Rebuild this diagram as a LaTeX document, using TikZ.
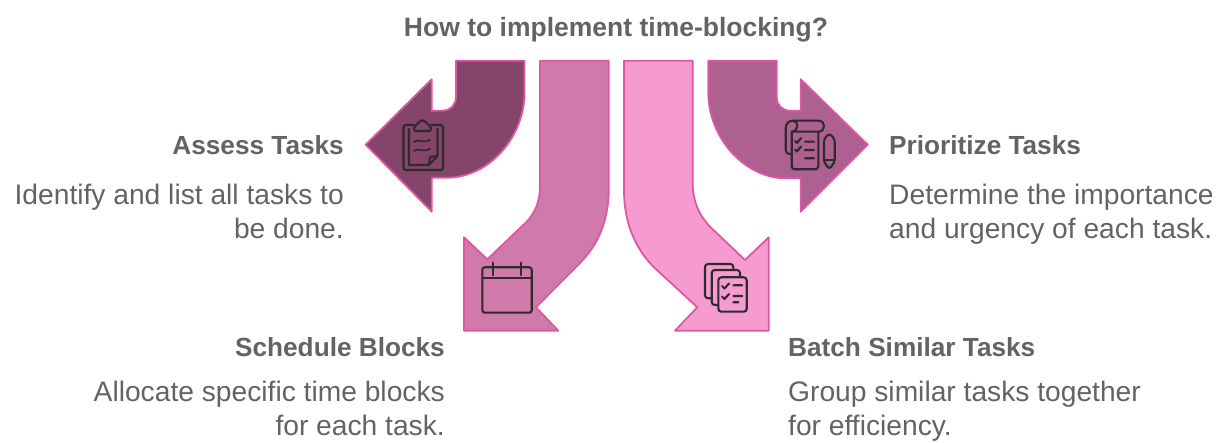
\documentclass[tikz,border=0pt]{standalone}
\usepackage{fontspec}
\setmainfont{Liberation Sans}
\usepackage{tikz}
\usetikzlibrary{positioning, calc}
\definecolor{textgray}{HTML}{636363}
\definecolor{edgepink}{HTML}{DE57A5}
\definecolor{iconink}{HTML}{2E2A2D}
\definecolor{assessfill}{HTML}{85446A}
\definecolor{schedulefill}{HTML}{CF7AAB}
\definecolor{batchfill}{HTML}{F59BD0}
\definecolor{priorityfill}{HTML}{AE6090}
\tikzstyle{titlebox}=[text=textgray,font=\fontsize{26.5}{30}\selectfont\bfseries,inner sep=0pt]
\tikzstyle{headbox}=[text=textgray,font=\fontsize{26.2}{30}\selectfont\bfseries,inner sep=0pt]
\tikzstyle{descbox}=[text=textgray,font=\fontsize{28.2}{34}\selectfont,inner sep=0pt]
\tikzstyle{arrowshape}=[draw=edgepink,line width=1.8pt,line join=round]
\tikzstyle{iconline}=[draw=iconink,line width=2.1pt,line cap=round,line join=round]

\begin{document}
\begin{tikzpicture}[x=1pt,y=-1pt]
        \useasboundingbox (0,0) rectangle (1225,443);

        % arrows
        \path[arrowshape,fill=assessfill]
            (456,60.7) -- (524.5,60.7) -- (524.5,93)
            .. controls (524.5,136) and (490,177.7) .. (446.7,177.7)
            -- (431.7,177.7) -- (431.7,211.7) -- (365.7,144.7) -- (431.7,79.3) -- (431.7,110.7)
            -- (443,110.7) .. controls (450,110.7) and (456,105) .. (456,97) -- cycle;
        \path[arrowshape,fill=schedulefill]
            (540,60.7) -- (608.7,60.7) -- (608.7,190)
            .. controls (608.7,222) and (597,246) .. (580,263)
            -- (536,307.3) -- (558.3,330.7) -- (464,330.7) -- (464,237.3) -- (487.3,259.3)
            -- (526.7,221.7) .. controls (535,213) and (540,201) .. (540,186.7) -- cycle;
        \path[arrowshape,fill=batchfill]
            (624,60.7) -- (692.7,60.7) -- (692.7,183)
            .. controls (692.7,200) and (698,214) .. (710,226.7)
            -- (745,260) -- (768.7,237.3) -- (768.7,330.7) -- (675,330.7) -- (697.3,307.3)
            -- (653.3,266.7) .. controls (636,249) and (624,224) .. (624,190) -- cycle;
        \path[arrowshape,fill=priorityfill]
            (708.3,60.7) -- (776.7,60.7) -- (776.7,97)
            .. controls (776.7,105) and (782,110.7) .. (790,110.7)
            -- (800.7,110.7) -- (800.7,79.3) -- (867.7,144.7) -- (800.7,211.7) -- (800.7,178.3)
            -- (786,178.3) .. controls (743,178.3) and (708.3,136) .. (708.3,93) -- cycle;

        % clipboard
        \draw[iconline,rounded corners=2.5pt]
            (414,125) -- (403.5,125) -- (403.5,170) -- (443,170) -- (443,125) -- (431,125);
        \draw[iconline]
            (409,129) -- (409,165) -- (429,165) -- (437.5,156) -- (437.5,129)
            (429,165) -- (430,157) -- (437.5,156);
        \draw[iconline,rounded corners=2pt]
            (414,131) -- (414,126) -- (418,124.5) -- (419.5,120.5) -- (425.5,120.5) -- (427,124.5) -- (431,126) -- (431,131) -- cycle;
        \draw[iconline,line width=1.6pt]
            (414,142) .. controls (418,138) and (421,144) .. (430,140)
            (414,151) .. controls (418,147) and (421,153) .. (430,149);

        % calendar
        \draw[iconline,rounded corners=2.5pt] (482.3,267.3) rectangle (531.7,312.7);
        \draw[iconline]
            (482.3,277.7) -- (531.7,277.7)
            (493.3,262.7) -- (493.3,275)
            (520.7,262.7) -- (520.7,275);

        % stacked pages
        \draw[iconline,rounded corners=3pt]
            (718.3,277.3) rectangle (746.7,311.7);
        \draw[iconline,rounded corners=3pt]
            (718.3,305) -- (711.7,305) -- (711.7,270) -- (740,270) -- (740,277.3);
        \draw[iconline,rounded corners=3pt]
            (711.7,298.3) -- (705,298.3) -- (705,264) -- (733.3,264) -- (733.3,270);
        \draw[iconline]
            (722,286) -- (724.5,288.5) -- (729,283.5)
            (722,296.5) -- (724.5,299) -- (729,294)
            (733.3,285.3) -- (742.3,285.3)
            (733.3,296) -- (742.3,296)
            (733.3,302.3) -- (738.3,302.3);

        % scroll and pen
        \draw[iconline,rounded corners=3pt]
            (791.7,131.7) -- (791.7,169.3) -- (818.3,169.3) -- (818.3,131.7);
        \draw[iconline]
            (791.7,131.7) -- (818.3,131.7)
            .. controls (826,131.7) and (826,120.7) .. (818.3,120.7)
            -- (793,120.7) .. controls (788,120.7) and (785.7,124) .. (785.7,129)
            -- (785.7,150) .. controls (785.7,153) and (788,154) .. (790,154)
            (793,120.7) .. controls (799,121) and (799,131) .. (791.7,131.7);
        \draw[iconline,rounded corners=3pt]
            (824,139) -- (824,162) -- (829.3,169.3) -- (834.7,162) -- (834.7,139) -- (829.3,133.3) -- cycle;
        \draw[iconline] (824,160) -- (834.7,160);
        \draw[iconline]
            (795,141) -- (797,143) -- (801,138)
            (795,149.5) -- (797,151.5) -- (801,146.5)
            (805,141.7) -- (814,141.7)
            (805,150) -- (814,150)
            (805,158.3) -- (814,158.3);

        % texts
        \node[titlebox, anchor=base] (t1) at (616,37) {How to implement time-blocking?};

        \node[headbox, anchor=base east] (h1) at (344,155) {Assess Tasks};
        \node[descbox, align=right, below=28.5pt of h1.south east, anchor=north east] (d1)
            {Identify and list all tasks to\\be done.};

        \node[headbox, anchor=base west] (h2) at (889,155) {Prioritize Tasks};
        \node[descbox, align=left, below=28.5pt of h2.south west, anchor=north west] (d2)
            {Determine the importance\\and urgency of each task.};

        \node[headbox, anchor=base east] (h3) at (445,356) {Schedule Blocks};
        \node[descbox, align=right, below=24.5pt of h3.south east, anchor=north east] (d3)
            {Allocate specific time blocks\\for each task.};

        \node[headbox, anchor=base west] (h4) at (788,356) {Batch Similar Tasks};
        \node[descbox, align=left, below=24.5pt of h4.south west, anchor=north west] (d4)
            {Group similar tasks together\\for efficiency.};
\end{tikzpicture}
\end{document}
